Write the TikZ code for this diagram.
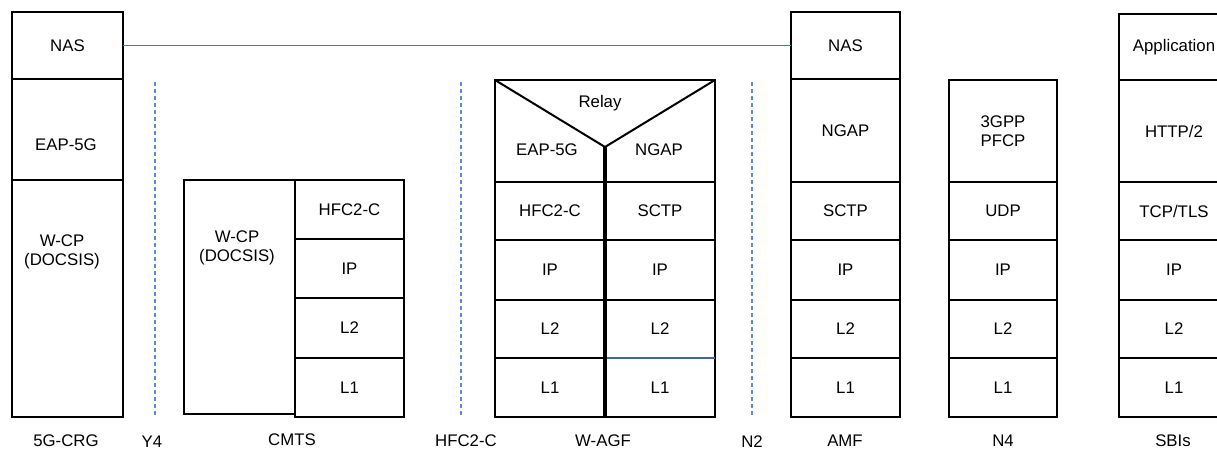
\documentclass[tikz,border=0pt]{standalone}
\usepackage{fontspec}
\setmainfont{Liberation Sans}
\usetikzlibrary{positioning}

\newcommand{\stackfont}{\fontsize{16.8}{19}\selectfont}
\definecolor{peerblue}{RGB}{68,114,196}
\definecolor{refblue}{HTML}{5B8BDA}
\definecolor{agfblue}{HTML}{44668F}

\tikzset{
  proto/.style={draw, line width=2.2pt, outer sep=0pt, inner sep=0pt, minimum width=110pt, font=\stackfont, align=center},
  txt/.style={font=\stackfont, align=center, inner sep=0pt},
  refline/.style={draw=refblue, line width=1.1pt, dash pattern=on 4pt off 3pt},
  peerline/.style={draw=peerblue, line width=1.6pt},
  nfname/.style={font=\stackfont, inner sep=0pt, anchor=base},
}

\begin{document}
\begin{tikzpicture}[x=1pt,y=-1pt]
  \useasboundingbox (0,0) rectangle (1217,450);

  % 1. 5G-CRG stack
  \node[proto, anchor=north west, minimum width=111pt, minimum height=67pt] (crgnas) at (12,12) {NAS};
  \node[proto, below=0pt of crgnas, minimum width=111pt, minimum height=101pt] (crgeap) {};
  \node[proto, below=0pt of crgeap, minimum width=111pt, minimum height=237pt] (crgwcp) {};
  \node[txt] (crgeapt) at (66,145) {EAP-5G};
  \node[txt] (crgwcpt) at (62,252) {W-CP\\(DOCSIS)};

  % 2. CMTS stack
  \node[proto, anchor=north west, minimum width=111pt, minimum height=234pt] (cmtswcp) at (184,180) {};
  \node[txt] (cmtswcpt) at (237,248) {W-CP\\(DOCSIS)};
  \node[proto, anchor=north west, minimum width=109pt, minimum height=59pt] (cmtshfc) at (295,180) {HFC2-C};
  \node[proto, below=0pt of cmtshfc, minimum width=109pt, minimum height=59pt] (cmtsip) {IP};
  \node[proto, below=0pt of cmtsip, minimum width=109pt, minimum height=60pt] (cmtsl2) {L2};
  \node[proto, below=0pt of cmtsl2, minimum width=109pt, minimum height=59pt] (cmtsl1) {L1};

  % 3. W-AGF stack, relay on top
  \node[proto, anchor=north west, minimum width=220pt, minimum height=102pt] (relay) at (495,80) {};
  \coordinate (apex) at (605,147);
  \draw[line width=2pt] (relay.north west) -- (apex) -- (relay.north east);
  \node[txt] (relayt) at (600,103) {Relay};
  \node[txt] (agfeapt) at (547,150) {EAP-5G};
  \node[txt] (agfngapt) at (659,150) {NGAP};
  % left side
  \node[proto, anchor=north west, minimum height=58pt] (agfhfc) at (495,182) {HFC2-C};
  \node[proto, below=0pt of agfhfc, minimum height=60pt] (agflip) {IP};
  \node[proto, below=0pt of agflip, minimum height=58pt] (agfll2) {L2};
  \node[proto, below=0pt of agfll2, minimum height=59pt] (agfll1) {L1};
  % right side
  \node[proto, anchor=north west, minimum height=58pt] (agfsctp) at (605,182) {SCTP};
  \node[proto, below=0pt of agfsctp, minimum height=60pt] (agfrip) {IP};
  \node[proto, below=0pt of agfrip, minimum height=58pt] (agfrl2) {L2};
  \node[proto, below=0pt of agfrl2, minimum height=59pt] (agfrl1) {L1};
  \draw[agfblue, line width=2pt] (agfrl1.north west) -- (agfrl1.north east);
  \draw[line width=3.2pt] (apex) -- (agfll1.south east);

  % 4. AMF stack
  \node[proto, anchor=north west, minimum width=109pt, minimum height=67pt] (amfnas) at (791,12) {NAS};
  \node[proto, below=0pt of amfnas, minimum width=109pt, minimum height=103pt] (amfngap) {NGAP};
  \node[proto, below=0pt of amfngap, minimum width=109pt, minimum height=58pt] (amfsctp) {SCTP};
  \node[proto, below=0pt of amfsctp, minimum width=109pt, minimum height=60pt] (amfip) {IP};
  \node[proto, below=0pt of amfip, minimum width=109pt, minimum height=58pt] (amfl2) {L2};
  \node[proto, below=0pt of amfl2, minimum width=109pt, minimum height=59pt] (amfl1) {L1};

  % 5. N4 stack
  \node[proto, anchor=north west, minimum width=108pt, minimum height=102pt, line width=1.7pt] (nfpfcp) at (949,80) {3GPP\\PFCP};
  \node[proto, below=0pt of nfpfcp, minimum width=108pt, minimum height=58pt, line width=1.7pt] (nfudp) {UDP};
  \node[proto, below=0pt of nfudp, minimum width=108pt, minimum height=60pt, line width=1.7pt] (nfip) {IP};
  \node[proto, below=0pt of nfip, minimum width=108pt, minimum height=58pt, line width=1.7pt] (nfl2) {L2};
  \node[proto, below=0pt of nfl2, minimum width=108pt, minimum height=59pt, line width=1.7pt] (nfl1) {L1};

  % 6. SBIs stack (runs off the right edge)
  \node[proto, anchor=north west, minimum height=66pt] (sbiapp) at (1119,14) {Application};
  \node[proto, below=0pt of sbiapp, minimum height=102pt] (sbihttp) {HTTP/2};
  \node[proto, below=0pt of sbihttp, minimum height=58pt] (sbitcp) {TCP/TLS};
  \node[proto, below=0pt of sbitcp, minimum height=60pt] (sbiip) {IP};
  \node[proto, below=0pt of sbiip, minimum height=58pt] (sbil2) {L2};
  \node[proto, below=0pt of sbil2, minimum height=59pt] (sbil1) {L1};

  % 7. peer link NAS -- NAS
  \draw[peerline] (crgnas.east) -- (amfnas.west);

  % 8. reference points
  \coordinate (ytop) at (155,82);  \coordinate (ybot) at (155,415);
  \coordinate (htop) at (461,82);  \coordinate (hbot) at (461,415);
  \coordinate (ntop) at (752,82);  \coordinate (nbot) at (752,415);
  \draw[refline] (ytop) -- (ybot);
  \draw[refline] (htop) -- (hbot);
  \draw[refline] (ntop) -- (nbot);

  % 9. names under the stacks
  \node[nfname] (lcrg) at (66,446) {5G-CRG};
  \node[nfname] (ly4) at (152,447) {Y4};
  \node[nfname] (lcmts) at (292,445) {CMTS};
  \node[nfname] (lhfc) at (466,446) {HFC2-C};
  \node[nfname] (lagf) at (603,446) {W-AGF};
  \node[nfname] (ln2) at (752,447) {N2};
  \node[nfname] (lamf) at (845,446) {AMF};
  \node[nfname] (ln4) at (1003,446) {N4};
  \node[nfname] (lsbi) at (1173,446) {SBIs};
\end{tikzpicture}
\end{document}
